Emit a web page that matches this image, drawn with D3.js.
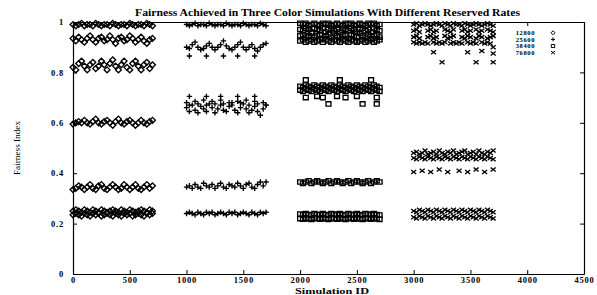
<!DOCTYPE html>
<html lang="en">
<head>
<meta charset="utf-8">
<title>fairness</title>
<script src="https://d3js.org/d3.v7.min.js"></script>
<style>
  body { margin: 0; background: #fff; }
  text { font-family: "Liberation Serif", "DejaVu Serif", serif; fill: #000; }
</style>
</head>
<body>
<svg width="597" height="295"></svg>
<script>
// simulation ID offsets inside each group of runs
var idOffsets = [0,25,50,75,100,125,150,175,200,225,250,275,300,325,350,375,400,425,450,475,500,525,550,575,600,625,650,675,700];
var groupStarts = [0, 1000, 2000, 3000];
var rateNames = ["12800", "25600", "38400", "76800"];
var xTicks = [0,500,1000,1500,2000,2500,3000,3500,4000,4500];
var yTicks = [0,0.2,0.4,0.6,0.8,1];

// 12800
var r12800_a = [0.99,0.985,0.99,0.995,0.985,0.99,0.99,0.985,0.995,0.99,0.985,0.99,0.99,0.985,0.995,0.99,0.985,0.99,0.99,0.985,0.995,0.99,0.985,0.99,0.99,0.985,0.995,0.99,0.985];
var r12800_b = [0.935,0.925,0.94,0.93,0.92,0.935,0.945,0.93,0.92,0.935,0.94,0.925,0.93,0.945,0.93,0.915,0.935,0.94,0.925,0.93,0.945,0.935,0.92,0.93,0.94,0.925,0.915,0.93,0.935];
var r12800_c = [0.82,0.81,0.835,0.845,0.825,0.81,0.83,0.84,0.815,0.825,0.845,0.83,0.81,0.835,0.85,0.825,0.81,0.83,0.845,0.82,0.81,0.835,0.845,0.825,0.81,0.83,0.84,0.815,0.83];
var r12800_d = [0.595,0.6,0.605,0.6,0.61,0.6,0.595,0.605,0.615,0.6,0.595,0.605,0.61,0.6,0.59,0.605,0.615,0.6,0.595,0.605,0.61,0.6,0.59,0.6,0.61,0.6,0.595,0.605,0.61];
var r12800_e = [0.335,0.34,0.35,0.345,0.335,0.345,0.355,0.34,0.335,0.35,0.355,0.34,0.335,0.345,0.355,0.345,0.335,0.34,0.355,0.345,0.335,0.345,0.355,0.34,0.335,0.345,0.355,0.34,0.35];
var r12800_f = [0.25,0.255,0.25,0.245,0.255,0.25,0.245,0.255,0.25,0.245,0.255,0.25,0.245,0.25,0.255,0.25,0.245,0.255,0.25,0.245,0.255,0.25,0.245,0.25,0.255,0.25,0.245,0.255,0.25];
var r12800_g = [0.235,0.24,0.235,0.23,0.24,0.235,0.23,0.24,0.235,0.24,0.23,0.235,0.24,0.235,0.23,0.24,0.235,0.23,0.24,0.235,0.24,0.23,0.235,0.24,0.235,0.23,0.24,0.235,0.24];

// 25600
var r25600_a = [0.99,0.985,0.99,0.995,0.985,0.99,0.99,0.985,0.995,0.99,0.985,0.99,0.99,0.985,0.995,0.99,0.985,0.99,0.99,0.985,0.995,0.99,0.985,0.99,0.99,0.985,0.995,0.99,0.985];
var r25600_b = [0.9,0.895,0.91,0.92,0.9,0.89,0.895,0.905,0.915,0.9,0.89,0.9,0.91,0.925,0.905,0.895,0.89,0.9,0.91,0.92,0.9,0.89,0.9,0.91,0.895,0.885,0.9,0.91,0.915];
var r25600_c = [null,0.865,null,null,null,null,null,0.865,null,null,null,null,null,0.865,null,null,null,null,0.865,null,null,null,null,null,0.865,null,null,null,null];
var r25600_d = [null,0.705,null,null,null,null,null,0.705,null,null,null,null,0.705,null,null,null,null,null,0.705,null,null,null,null,null,0.705,null,null,null,null];
var r25600_e = [0.68,0.67,null,0.685,0.675,null,0.69,0.67,null,0.685,0.675,null,0.69,0.675,null,0.68,0.67,null,0.685,0.68,null,0.69,0.67,null,0.685,0.675,null,0.68,0.67];
var r25600_f = [0.66,0.645,0.67,0.65,0.64,0.665,0.655,0.645,0.675,0.66,0.64,0.655,0.67,0.65,0.645,0.665,0.68,0.65,0.64,0.66,0.675,0.655,0.64,0.65,0.665,0.645,0.63,0.655,0.67];
var r25600_g = [0.345,0.35,0.34,0.355,0.345,0.34,0.36,0.35,0.345,0.355,0.34,0.35,0.36,0.345,0.34,0.355,0.35,0.345,0.36,0.35,0.34,0.355,0.36,0.345,0.34,0.355,0.365,0.35,0.365];
var r25600_h = [0.24,0.245,0.24,0.235,0.245,0.24,0.235,0.245,0.24,0.245,0.235,0.24,0.245,0.24,0.235,0.245,0.24,0.245,0.235,0.24,0.245,0.24,0.235,0.245,0.24,0.235,0.245,0.24,0.245];

// 38400
var r38400_a = [0.995,0.99,0.995,0.985,0.99,0.995,0.99,0.985,0.995,0.99,0.995,0.985,0.99,0.995,0.99,0.985,0.995,0.99,0.995,0.985,0.99,0.995,0.99,0.985,0.995,0.99,0.995,0.985,0.99];
var r38400_b = [0.97,0.965,0.975,0.97,0.96,0.975,0.97,0.965,0.975,0.96,0.97,0.975,0.965,0.97,0.96,0.975,0.97,0.965,0.975,0.97,0.96,0.97,0.975,0.965,0.97,0.96,0.975,0.97,0.965];
var r38400_c = [0.945,0.95,0.94,0.945,0.955,0.94,0.945,0.95,0.935,0.945,0.95,0.94,0.955,0.945,0.94,0.95,0.945,0.935,0.95,0.945,0.94,0.955,0.945,0.94,0.95,0.935,0.945,0.95,0.94];
var r38400_d = [0.925,0.93,0.92,0.925,0.93,0.92,0.925,0.93,0.92,0.93,0.925,0.92,0.93,0.925,0.92,0.93,0.925,0.92,0.93,0.925,0.92,0.925,0.93,0.92,0.925,0.93,0.92,0.925,0.93];
var r38400_e = [null,null,0.77,null,null,null,null,null,null,null,null,null,null,null,0.77,null,null,null,null,null,null,null,null,null,null,0.77,null,null,null];
var r38400_f = [0.745,0.74,0.75,0.745,0.74,0.75,0.745,0.74,0.75,0.745,0.74,0.75,0.745,0.74,0.75,0.745,0.74,0.75,0.745,0.74,0.75,0.745,0.74,0.75,0.745,0.74,0.75,0.745,0.74];
var r38400_g = [0.73,0.725,0.735,0.73,0.725,0.735,0.73,0.725,0.735,0.73,0.725,0.735,0.73,0.725,0.735,0.73,0.725,0.735,0.73,0.725,0.735,0.73,0.725,0.735,0.73,0.725,0.735,0.73,0.725];
var r38400_h = [null,null,0.7,null,null,null,0.705,null,0.7,null,null,null,null,0.705,null,null,0.7,null,null,null,0.705,null,null,null,null,null,null,0.7,null];
var r38400_i = [null,null,null,null,null,null,null,null,null,null,0.675,null,null,null,null,null,null,null,null,null,null,null,0.675,null,null,null,null,0.675,null];
var r38400_j = [0.365,0.36,0.365,0.37,0.36,0.365,0.37,0.365,0.36,0.365,0.37,0.36,0.365,0.37,0.365,0.36,0.365,0.37,0.36,0.365,0.37,0.365,0.36,0.365,0.37,0.36,0.365,0.37,0.365];
var r38400_k = [0.238,0.235,0.24,0.236,0.234,0.24,0.237,0.235,0.24,0.236,0.234,0.24,0.238,0.235,0.24,0.236,0.234,0.24,0.237,0.235,0.24,0.236,0.234,0.24,0.238,0.235,0.24,0.236,0.234];
var r38400_l = [0.22,0.218,0.222,0.219,0.217,0.222,0.22,0.218,0.222,0.219,0.217,0.221,0.22,0.218,0.222,0.219,0.217,0.222,0.22,0.218,0.222,0.219,0.217,0.221,0.22,0.218,0.222,0.219,0.217];

// 76800
var r76800_a = [0.99,0.995,0.985,0.99,0.995,0.99,0.985,0.99,0.995,0.99,0.985,0.995,0.99,0.985,0.995,0.99,0.99,0.985,0.995,0.99,0.985,0.99,0.995,0.99,0.985,0.99,0.995,0.99,0.985];
var r76800_b = [0.965,0.97,0.96,null,null,0.965,0.97,0.96,0.965,null,null,0.97,0.965,0.96,0.97,null,null,0.965,0.97,0.96,0.965,null,0.97,0.96,0.965,null,0.97,0.965,0.96];
var r76800_c = [0.94,0.945,0.935,null,null,0.94,0.945,0.935,0.94,null,null,0.945,0.935,0.94,0.945,null,null,0.94,0.935,0.945,0.94,null,0.935,0.945,0.94,null,0.935,0.94,0.945];
var r76800_d = [0.92,0.915,0.92,0.915,0.92,0.915,null,0.92,0.915,0.92,0.915,0.92,null,0.915,0.92,0.915,0.92,0.915,null,0.92,0.915,0.92,0.915,null,0.92,0.915,0.92,0.915,0.9];
var r76800_e = [null,null,null,null,null,null,null,0.88,null,null,null,null,null,null,null,null,null,null,null,0.88,null,null,null,null,0.885,null,null,null,0.875];
var r76800_f = [null,null,null,null,null,null,null,null,null,null,0.84,null,null,null,null,null,null,null,null,null,null,null,0.84,null,null,null,null,null,0.84];
var r76800_g = [0.48,0.485,0.475,0.48,0.49,0.475,0.48,0.485,0.475,0.49,0.48,0.475,0.485,0.48,0.49,0.475,0.48,0.485,0.49,0.475,0.48,0.485,0.475,0.49,0.48,0.475,0.485,0.48,0.49];
var r76800_h = [0.46,0.455,0.465,0.46,0.455,0.465,0.46,0.455,0.465,0.46,0.455,0.465,0.46,0.455,0.465,0.46,0.455,0.465,0.46,0.455,0.465,0.46,0.455,0.465,0.46,0.455,0.465,0.46,0.455];
var r76800_i = [0.405,null,null,0.41,null,null,0.405,null,null,0.415,null,null,0.405,null,null,null,0.41,null,null,0.405,null,null,0.415,null,null,0.405,null,null,0.415];
var r76800_j = [0.25,0.245,0.255,0.25,0.245,0.255,0.25,0.245,0.255,0.25,0.245,0.255,0.25,0.245,0.255,0.25,0.245,0.255,0.25,0.245,0.255,0.25,0.245,0.255,0.25,0.245,0.255,0.25,0.245];
var r76800_k = [0.225,0.22,0.23,0.225,0.22,0.23,0.225,0.22,0.23,0.225,0.22,0.23,0.225,0.22,0.23,0.225,0.22,0.23,0.225,0.22,0.23,0.225,0.22,0.23,0.225,0.22,0.23,0.225,0.22];

var rowsByRate = [
  [r12800_a, r12800_b, r12800_c, r12800_d, r12800_e, r12800_f, r12800_g],
  [r25600_a, r25600_b, r25600_c, r25600_d, r25600_e, r25600_f, r25600_g, r25600_h],
  [r38400_a, r38400_b, r38400_c, r38400_d, r38400_e, r38400_f, r38400_g, r38400_h, r38400_i, r38400_j, r38400_k, r38400_l],
  [r76800_a, r76800_b, r76800_c, r76800_d, r76800_e, r76800_f, r76800_g, r76800_h, r76800_i, r76800_j, r76800_k]
];

var svg = d3.select("svg");
var x = d3.scaleLinear().domain([0, 4500]).range([73, 584]);
var y = d3.scaleLinear().domain([0, 1]).range([274, 22]);

// point shapes like gnuplot: diamond, plus, square, cross
var shapes = [
  function(r){ return "M0," + (-r) + "L" + r + ",0L0," + r + "L" + (-r) + ",0Z"; },
  function(r){ return "M" + (-r) + ",0H" + r + "M0," + (-r) + "V" + r; },
  function(r){ return "M" + (-r*0.85) + "," + (-r*0.75) + "H" + (r*0.85) + "V" + (r*0.75) + "H" + (-r*0.85) + "Z"; },
  function(r){ return "M" + (-r) + "," + (-r*0.8) + "L" + r + "," + (r*0.8) + "M" + (-r) + "," + (r*0.8) + "L" + r + "," + (-r*0.8); }
];
var sizes = [2.9, 2.7, 2.9, 2.5];

var points = [];
rowsByRate.forEach(function(rows, s){
  rows.forEach(function(row){
    row.forEach(function(v, i){
      if (v !== null) points.push({s: s, id: groupStarts[s] + idOffsets[i], v: v});
    });
  });
});

svg.append("g").attr("id", "points")
  .selectAll("path")
  .data(points)
  .enter()
  .append("path")
  .attr("transform", d => "translate(" + x(d.id) + "," + y(d.v) + ")")
  .attr("d", d => shapes[d.s](sizes[d.s]))
  .attr("fill", "none")
  .attr("stroke", "#000")
  .attr("stroke-width", 1.35);

// axes, ticks inward, mirrored on top/right
function styleAxis(g){
  g.select(".domain").attr("stroke", "#000").attr("stroke-width", 1.2);
  g.selectAll(".tick line").attr("stroke", "#000").attr("stroke-width", 1);
  g.selectAll(".tick text")
    .style("font-family", "'Liberation Serif', serif")
    .style("font-weight", "bold")
    .style("font-size", "8.5px")
    .style("letter-spacing", "0.8px");
}

svg.append("g").attr("transform", "translate(0,274)")
  .call(d3.axisBottom(x).tickValues(xTicks).tickSizeInner(-4).tickSizeOuter(0).tickPadding(3).tickFormat(d3.format("d")))
  .call(styleAxis);
svg.append("g").attr("transform", "translate(0,22)")
  .call(d3.axisTop(x).tickValues(xTicks).tickSizeInner(-4).tickSizeOuter(0).tickFormat(""))
  .call(styleAxis);
svg.append("g").attr("transform", "translate(73,0)")
  .call(d3.axisLeft(y).tickValues(yTicks).tickSizeInner(-4).tickSizeOuter(0).tickPadding(9).tickFormat(d => String(d)))
  .call(styleAxis);
svg.append("g").attr("transform", "translate(584,0)")
  .call(d3.axisRight(y).tickValues(yTicks).tickSizeInner(-4).tickSizeOuter(0).tickFormat(""))
  .call(styleAxis);

// legend
var legend = svg.append("g").attr("id", "legend");
rateNames.forEach(function(name, i){
  legend.append("text")
    .attr("x", 535).attr("y", 35 + i * 6.6)
    .attr("text-anchor", "end")
    .style("font-size", "6.5px").style("font-weight", "bold").style("letter-spacing", "0.6px")
    .text(name);
  legend.append("path")
    .attr("transform", "translate(553," + (32.8 + i * 6.6) + ")")
    .attr("d", shapes[i](2))
    .attr("fill", "none").attr("stroke", "#000").attr("stroke-width", 1);
});

svg.append("text")
  .attr("x", 135).attr("y", 16)
  .attr("textLength", 385).attr("lengthAdjust", "spacingAndGlyphs")
  .style("font-size", "9.5px").style("font-weight", "bold")
  .text("Fairness Achieved in Three Color Simulations With Different Reserved Rates");

svg.append("text")
  .attr("x", 295).attr("y", 294)
  .attr("textLength", 74).attr("lengthAdjust", "spacingAndGlyphs")
  .style("font-size", "9px").style("font-weight", "bold")
  .text("Simulation ID");

svg.append("text")
  .attr("transform", "translate(20,148) rotate(-90)")
  .attr("text-anchor", "middle")
  .attr("textLength", 54).attr("lengthAdjust", "spacingAndGlyphs")
  .style("font-size", "7.5px")
  .text("Fairness Index");
</script>
</body>
</html>
